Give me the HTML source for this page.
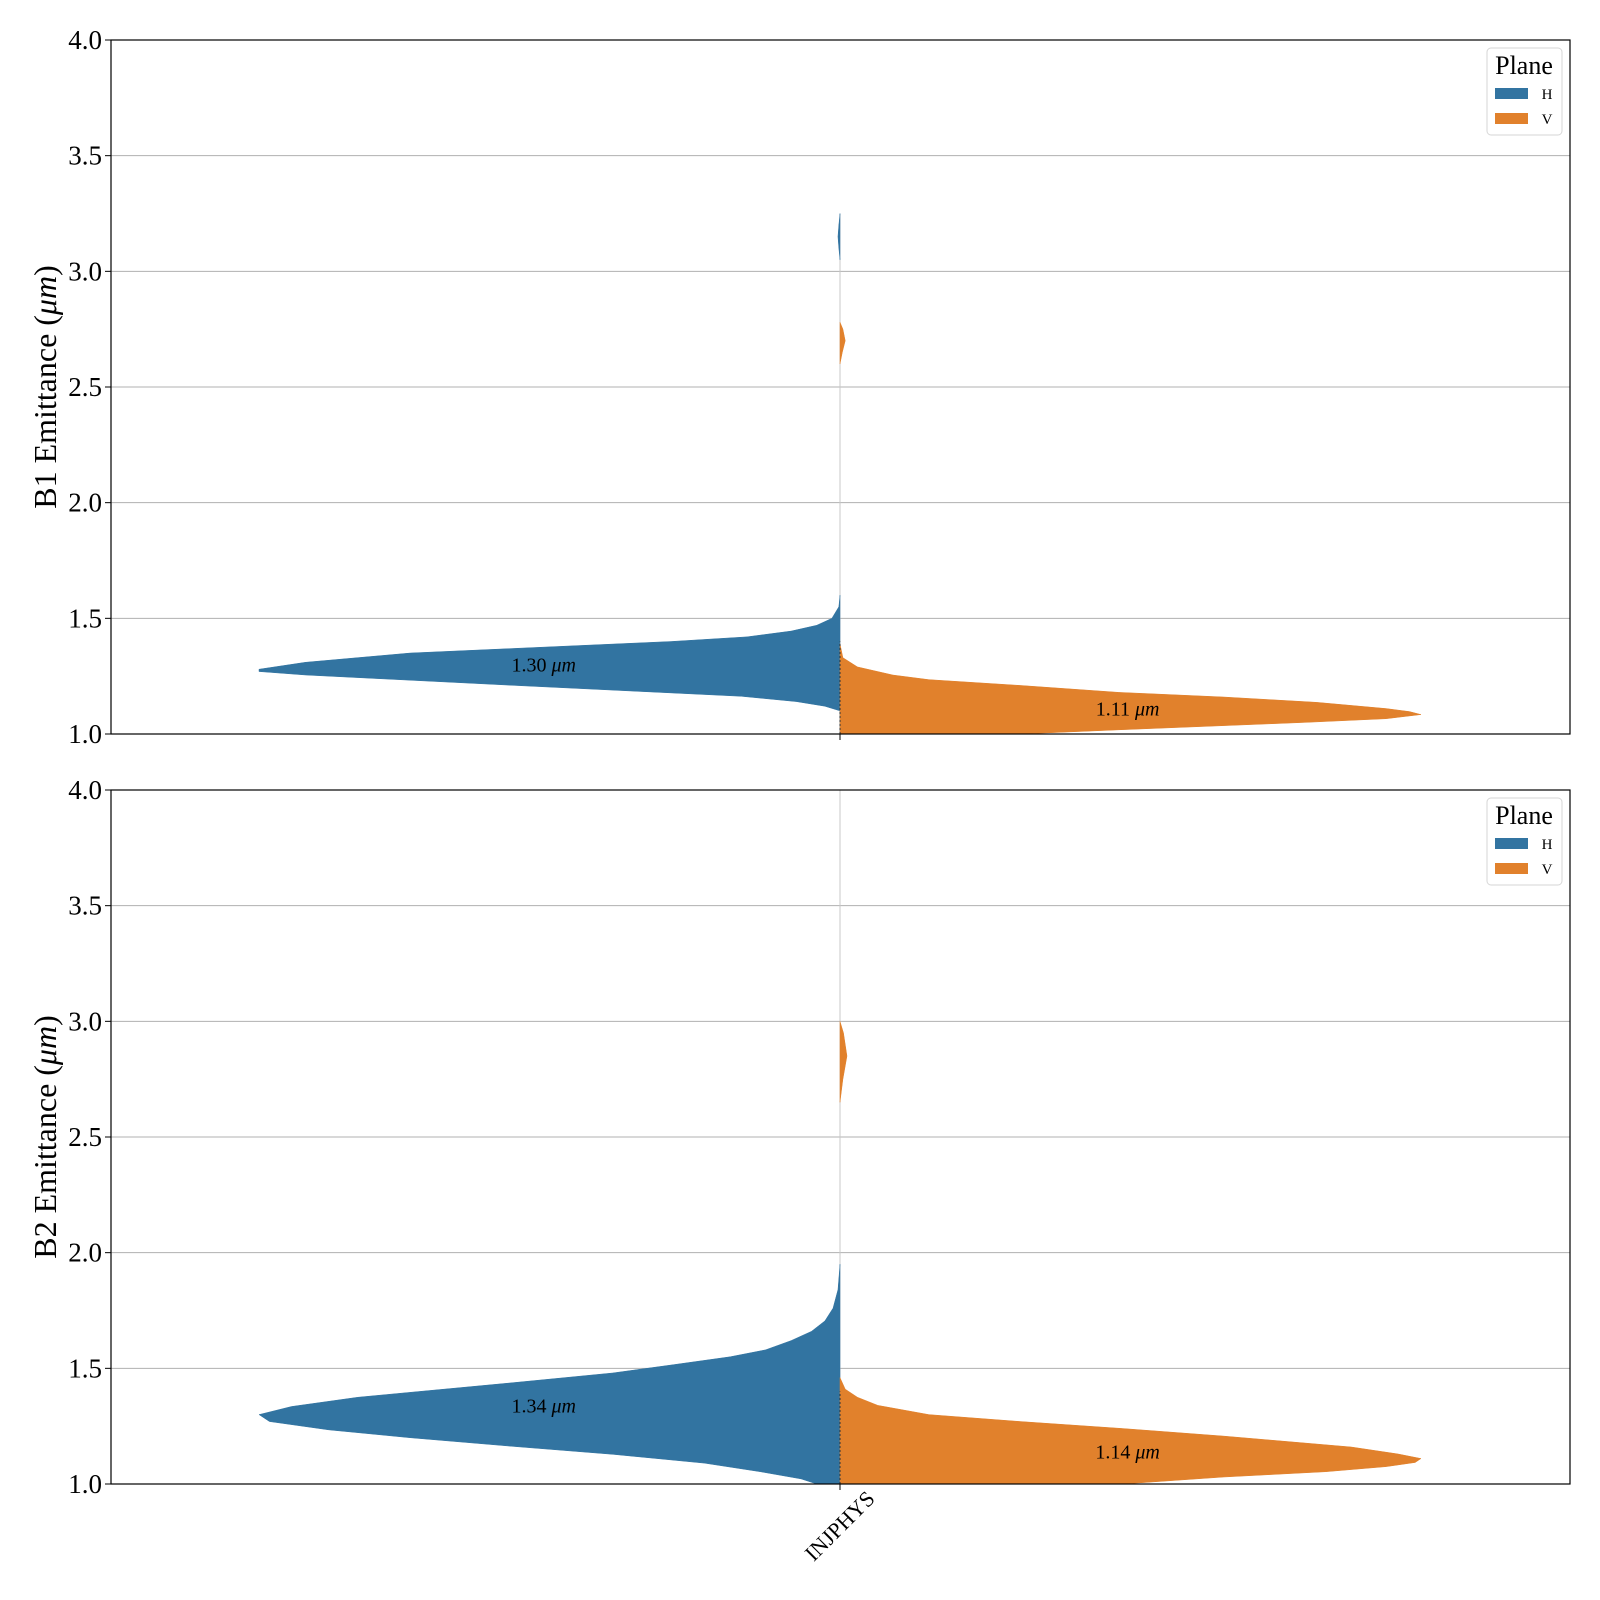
<!DOCTYPE html>
<html><head><meta charset="utf-8"><style>
body{margin:0;background:#fff}
svg{display:block;font-family:"Liberation Serif",serif}
</style></head><body>
<svg id="chart" width="1600" height="1600" viewBox="0 0 1600 1600" xmlns="http://www.w3.org/2000/svg"></svg>
<script>
// ---- data ----
const categories = ["INJPHYS"];
const yTicks = [1.0, 1.5, 2.0, 2.5, 3.0, 3.5, 4.0];
const panelNames = ["B1", "B2"];
// violin profiles: value arrays and relative half-width arrays
const b1HValues = [0.99,1.10,1.12,1.14,1.163,1.21,1.255,1.27,1.28,1.31,1.35,1.40,1.42,1.445,1.47,1.50,1.55,1.60];
const b1HWidths = [0,0,0.026,0.075,0.17,0.56,0.92,1.0,1.0,0.92,0.74,0.29,0.16,0.084,0.04,0.014,0.002,0];
const b1HBlobValues = [3.05,3.10,3.15,3.20,3.25];
const b1HBlobWidths = [0,0.002,0.0035,0.002,0];
const b1VValues = [0.98,1.0,1.018,1.05,1.066,1.084,1.097,1.11,1.137,1.16,1.18,1.21,1.235,1.255,1.29,1.33,1.39];
const b1VWidths = [0.25,0.31,0.48,0.80,0.94,1.0,0.98,0.94,0.82,0.66,0.48,0.31,0.153,0.091,0.03,0.005,0];
const b1VBlobValues = [2.6,2.65,2.7,2.75,2.78];
const b1VBlobWidths = [0,0.004,0.009,0.005,0];
const b2HValues = [0.98,1.0,1.022,1.053,1.09,1.128,1.163,1.20,1.234,1.27,1.30,1.335,1.375,1.437,1.48,1.516,1.55,1.58,1.62,1.66,1.705,1.76,1.84,1.95];
const b2HWidths = [0.02,0.04,0.067,0.137,0.233,0.39,0.565,0.74,0.88,0.982,1.0,0.944,0.83,0.567,0.391,0.286,0.189,0.128,0.084,0.049,0.026,0.012,0.0035,0];
const b2VValues = [0.98,1.0,1.03,1.053,1.075,1.093,1.11,1.13,1.16,1.207,1.24,1.27,1.30,1.34,1.375,1.41,1.46];
const b2VWidths = [0.40,0.487,0.66,0.836,0.94,0.99,1.0,0.96,0.88,0.661,0.486,0.311,0.153,0.065,0.03,0.009,0];
const b2VBlobValues = [2.65,2.75,2.85,2.95,3.0];
const b2VBlobWidths = [0,0.005,0.012,0.006,0];
const medians = [[1.30,1.11],[1.34,1.14]];
const tailTop = [3.25, 4.0];

// ---- layout ----
const NS="http://www.w3.org/2000/svg";
const svg=document.getElementById('chart');
const L=111,R=1570,cx=840,halfW=581;
const panels=[{top:40,bot:734},{top:790,bot:1484}];
const C={H:"#3274a1",V:"#e1812c"};
function el(t,a,p){const e=document.createElementNS(NS,t);for(const k in a)e.setAttribute(k,a[k]);(p||svg).appendChild(e);return e;}
function yScale(p,v){return p.bot-(v-1)/3*(p.bot-p.top);}

panels.forEach((p,i)=>{
  const g=el('g',{});
  
  
  const cp=el('clipPath',{id:'clip'+i},g);
  el('rect',{x:L,y:p.top,width:R-L,height:p.bot-p.top},cp);
  yTicks.forEach(t=>{
    const y=yScale(p,t);
    if(t>1&&t<4){const gl=el('line',{x1:L,x2:R,y1:y,y2:y,stroke:'#b0b0b0','stroke-width':1},g);
      }
    el('line',{x1:L-6,x2:L,y1:y,y2:y,stroke:'#000','stroke-width':1},g);
    const tx=el('text',{x:L-9,y:y+9,'text-anchor':'end','font-size':27},g);
    tx.textContent=t.toFixed(1);
    
  });
  const vg=el('g',{'clip-path':'url(#clip'+i+')'},g);
  const tl=el('line',{x1:cx,x2:cx,y1:yScale(p,1.0),y2:yScale(p,tailTop[i]),stroke:'#c8c8c8','stroke-width':1},vg);
  
  function violin(vals,ws,side,color,name){
    let d='M'+cx+','+yScale(p,vals[0]);
    vals.forEach((v,k)=>{d+=' L'+(cx+side*ws[k]*halfW)+','+yScale(p,v);});
    d+=' L'+cx+','+yScale(p,vals[vals.length-1])+' Z';
    const pa=el('path',{d:d,fill:color,stroke:color,'stroke-width':0.5},vg);
    
    
  }
  if(i===0){
    violin(b1HValues,b1HWidths,-1,C.H,'violin-h');
    violin(b1HBlobValues,b1HBlobWidths,-1,C.H,'violin-h-outlier');
    violin(b1VValues,b1VWidths,1,C.V,'violin-v');
    violin(b1VBlobValues,b1VBlobWidths,1,C.V,'violin-v-outlier');
  } else {
    violin(b2HValues,b2HWidths,-1,C.H,'violin-h');
    violin(b2VValues,b2VWidths,1,C.V,'violin-v');
    violin(b2VBlobValues,b2VBlobWidths,1,C.V,'violin-v-outlier');
  }
  const ml=el('line',{x1:cx,x2:cx,y1:yScale(p,1.0),y2:yScale(p,1.4),stroke:'#333','stroke-width':1,'stroke-dasharray':'2,2'},vg);
  
  [['H',-1],['V',1]].forEach(([pl,s],k)=>{
    const m=medians[i][k];
    const t=el('text',{x:cx+s*(k?0.495:0.51)*halfW,y:yScale(p,m)+7,'text-anchor':'middle','font-size':20},g);
    t.innerHTML=m.toFixed(2)+' <tspan font-style="italic">μm</tspan>';
    
    
  });
  const fr=el('rect',{x:L,y:p.top,width:R-L,height:p.bot-p.top,fill:'none',stroke:'#000','stroke-width':1.2},g);
  
  el('line',{x1:cx,x2:cx,y1:p.bot,y2:p.bot+6,stroke:'#000','stroke-width':1},g);
  const yt=el('text',{x:0,y:0,'text-anchor':'middle','font-size':32,transform:`translate(56,${(p.top+p.bot)/2}) rotate(-90)`},g);
  yt.innerHTML=panelNames[i]+' Emittance (<tspan font-style="italic">μm</tspan>)';
  
  const lg=el('g',{},g);
  
  const ly=p.top+8;
  el('rect',{x:1487,y:ly,width:75,height:87,rx:4,fill:'#fff','fill-opacity':0.8,stroke:'#d6d6d6','stroke-width':1},lg);
  const lt=el('text',{x:1524,y:ly+26,'text-anchor':'middle','font-size':26},lg);lt.textContent='Plane';
  
  [['H',C.H],['V',C.V]].forEach(([n,c],k)=>{
    const e=el('g',{},lg);
    
    
    el('rect',{x:1495,y:ly+40+k*25,width:33,height:11,fill:c},e);
    const tt=el('text',{x:1547,y:ly+51+k*25,'text-anchor':'middle','font-size':15},e);tt.textContent=n;
  });
});
const xl=el('text',{x:0,y:0,'text-anchor':'end','font-size':22,transform:'translate(876,1500) rotate(-45)'});
xl.textContent=categories[0];


</script>
</body></html>
